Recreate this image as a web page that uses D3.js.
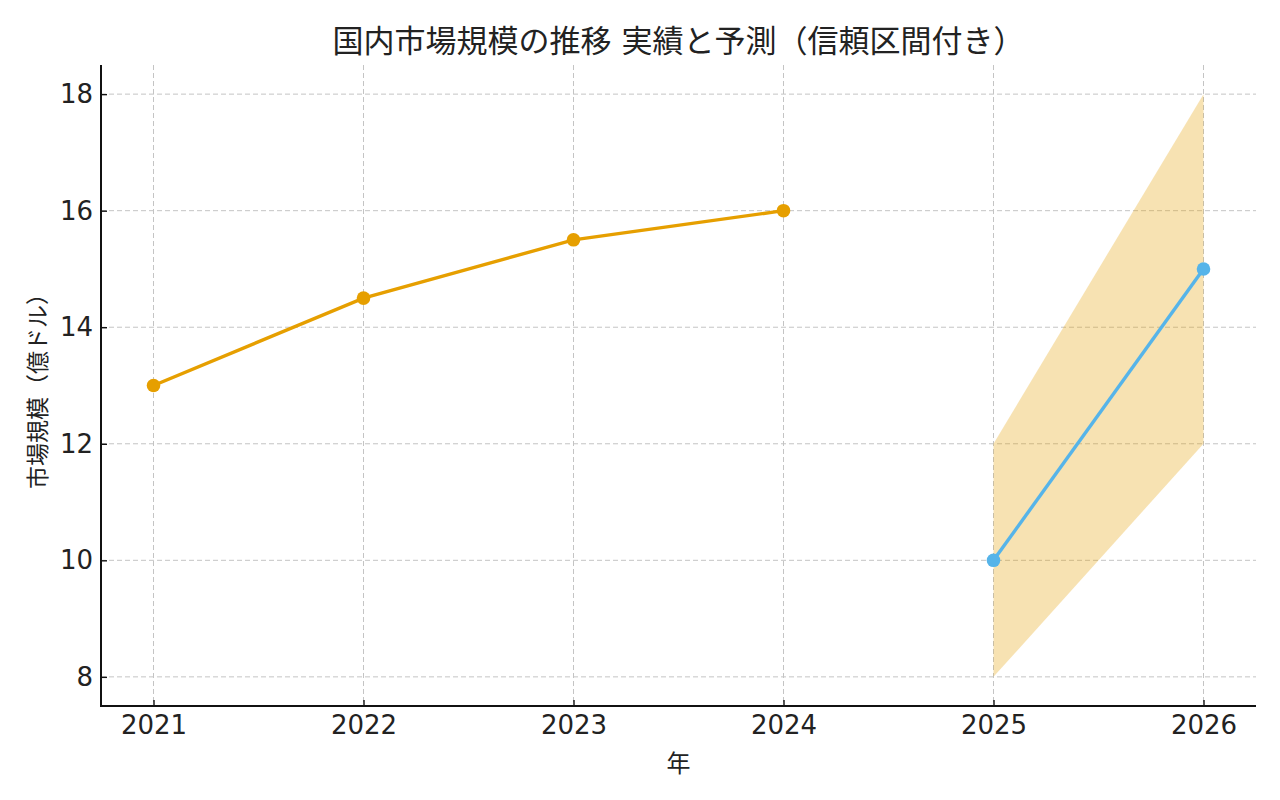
<!DOCTYPE html>
<html>
<head>
<meta charset="utf-8">
<script src="https://cdn.jsdelivr.net/npm/d3@7"></script>
<style>
  body { margin: 0; background: #fff; }
  svg text { font-family: "DejaVu Sans", "Noto Sans CJK JP", sans-serif; fill: #222; }
  .grid line { stroke: #c4c4c4; stroke-dasharray: 5,3; stroke-width: 1; }
</style>
</head>
<body>
<svg id="chart" width="1280" height="800"></svg>
<script>
const actualYears = [2021, 2022, 2023, 2024];
const actualValues = [13, 14.5, 15.5, 16];
const forecastYears = [2025, 2026];
const forecastValues = [10, 15];
const bandLower = [8, 12];
const bandUpper = [12, 18];
const xTicks = [2021, 2022, 2023, 2024, 2025, 2026];
const yTicks = [8, 10, 12, 14, 16, 18];

const titleText = "国内市場規模の推移 実績と予測（信頼区間付き）";
const xLabel = "年";
const yLabel = "市場規模（億ドル）";

const margin = { top: 65, right: 24, bottom: 94, left: 101 };
const width = 1280, height = 800;

const svg = d3.select("#chart");
const x = d3.scaleLinear().domain([2020.75, 2026.25]).range([margin.left, width - margin.right]);
const y = d3.scaleLinear().domain([7.5, 18.5]).range([height - margin.bottom, margin.top]);

// grid
const grid = svg.append("g").attr("class", "grid");
grid.selectAll("line.v").data(xTicks).join("line")
  .attr("x1", d => x(d)).attr("x2", d => x(d))
  .attr("y1", y.range()[1]).attr("y2", y.range()[0]);
grid.selectAll("line.h").data(yTicks).join("line")
  .attr("x1", x.range()[0]).attr("x2", x.range()[1])
  .attr("y1", d => y(d)).attr("y2", d => y(d));

// forecast band
const band = forecastYears.map((yr, i) => ({ x: yr, lo: bandLower[i], hi: bandUpper[i] }));
svg.append("path").datum(band)
  .attr("fill", "#E69F00").attr("fill-opacity", 0.3)
  .attr("d", d3.area().x(d => x(d.x)).y0(d => y(d.lo)).y1(d => y(d.hi)));

function series(xs, vs, color) {
  const pts = xs.map((yr, i) => ({ x: yr, v: vs[i] }));
  svg.append("path").datum(pts)
    .attr("fill", "none").attr("stroke", color).attr("stroke-width", 3.4)
    .attr("d", d3.line().x(d => x(d.x)).y(d => y(d.v)));
  svg.append("g").selectAll("circle").data(pts).join("circle")
    .attr("cx", d => x(d.x)).attr("cy", d => y(d.v)).attr("r", 6.8)
    .attr("fill", color);
}
series(actualYears, actualValues, "#E69F00");
series(forecastYears, forecastValues, "#56B4E9");

// axes (ticks point inward, like the reference)
const xAxis = svg.append("g")
  .attr("transform", `translate(0,${height - margin.bottom})`)
  .call(d3.axisBottom(x).tickValues(xTicks).tickFormat(d3.format("d")).tickSizeOuter(0).tickSize(-6).tickPadding(10));
const yAxis = svg.append("g")
  .attr("transform", `translate(${margin.left},0)`)
  .call(d3.axisLeft(y).tickValues(yTicks).tickSizeOuter(0).tickSize(-6).tickPadding(8));
[xAxis, yAxis].forEach(a => {
  a.select(".domain").remove();
  a.selectAll(".tick line").attr("stroke", "#111").attr("stroke-width", 1.4);
  a.selectAll(".tick text").attr("font-size", 26).attr("fill", "#222");
});
svg.append("line")
  .attr("x1", x.range()[0]).attr("x2", x.range()[1])
  .attr("y1", y.range()[0]).attr("y2", y.range()[0])
  .attr("stroke", "#111").attr("stroke-width", 2);
svg.append("line")
  .attr("x1", x.range()[0]).attr("x2", x.range()[0])
  .attr("y1", y.range()[1]).attr("y2", y.range()[0] + 1)
  .attr("stroke", "#111").attr("stroke-width", 2);

// labels
svg.append("text").attr("x", (x.range()[0] + x.range()[1]) / 2).attr("y", 52)
  .attr("text-anchor", "middle").attr("font-size", 31).text(titleText);
svg.append("text").attr("x", (x.range()[0] + x.range()[1]) / 2).attr("y", 772)
  .attr("text-anchor", "middle").attr("font-size", 24).text(xLabel);
svg.append("text")
  .attr("transform", `translate(46,${(y.range()[0] + y.range()[1]) / 2}) rotate(-90)`)
  .attr("text-anchor", "middle").attr("font-size", 23).text(yLabel);
</script>
</body>
</html>
